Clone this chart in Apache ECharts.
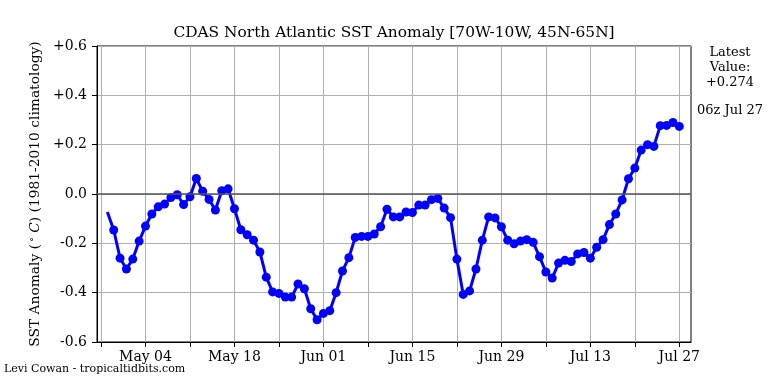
<!DOCTYPE html>
<html>
<head>
<meta charset="utf-8">
<script src="https://cdn.jsdelivr.net/npm/echarts@6/dist/echarts.min.js"></script>
<style>
html,body{margin:0;padding:0;background:#fff;}
#chart{width:768px;height:384px;}
</style>
</head>
<body>
<div id="chart"></div>
<script>
// x values are days since Apr 27; first observation is Apr 28 (day 1)
const firstDay = 1;
const anomaly = [
  -0.073, -0.146, -0.260, -0.304, -0.264, -0.191, -0.130, -0.081, -0.052, -0.041,
  -0.014, -0.003, -0.043, -0.011,  0.063,  0.011, -0.022, -0.065,  0.013,  0.021,
  -0.060, -0.145, -0.165, -0.187, -0.235, -0.337, -0.397, -0.403, -0.418, -0.418,
  -0.365, -0.384, -0.465, -0.510, -0.484, -0.473, -0.400, -0.312, -0.258, -0.176,
  -0.172, -0.172, -0.162, -0.133, -0.062, -0.093, -0.093, -0.073, -0.075, -0.045,
  -0.045, -0.023, -0.018, -0.057, -0.096, -0.264, -0.407, -0.393, -0.304, -0.187,
  -0.093, -0.097, -0.133, -0.187, -0.202, -0.191, -0.185, -0.196, -0.254, -0.316,
  -0.341, -0.280, -0.269, -0.274, -0.243, -0.237, -0.260, -0.216, -0.185, -0.124,
  -0.081, -0.024,  0.062,  0.105,  0.178,  0.200,  0.193,  0.277,  0.278,  0.290,
   0.274
];
const tickDays = [0, 7, 14, 21, 28, 35, 42, 49, 56, 63, 70, 77, 84, 91];
const labelDays = [7, 21, 35, 49, 63, 77, 91];
const tickLabels = ['May 04', 'May 18', 'Jun 01', 'Jun 15', 'Jun 29', 'Jul 13', 'Jul 27'];
const latestValue = '+0.274';
const latestTime = '06z Jul 27';
const titleText = 'CDAS North Atlantic SST Anomaly [70W-10W, 45N-65N]';
const creditText = 'Levi Cowan - tropicaltidbits.com';

const xMin = -0.63, xMax = 92.84;
const FONT = 'DejaVu Serif';

const seriesData = anomaly.map((v, i) => {
  const item = { value: [firstDay + i, v] };
  if (i === 0) item.symbol = 'none';
  return item;
});

function fmtY(v) {
  const r = Math.round(v * 10) / 10;
  if (Math.abs(r) < 1e-9) return '0.0';
  return (r > 0 ? '+' : '') + r.toFixed(1);
}

const chart = echarts.init(document.getElementById('chart'), null, { renderer: 'canvas' });
chart.setOption({
  animation: false,
  backgroundColor: '#ffffff',
  grid: {
    left: 97, right: 77, top: 46, bottom: 42,
    show: true, borderColor: '#000', borderWidth: 1, backgroundColor: 'transparent'
  },
  xAxis: {
    type: 'value', min: xMin, max: xMax,
    axisLine: { show: true, onZero: false, lineStyle: { color: '#000', width: 1 } },
    axisTick: { show: true, inside: false, length: 5, customValues: tickDays, lineStyle: { color: '#000', width: 1 } },
    axisLabel: {
      customValues: labelDays, margin: 8,
      fontFamily: FONT, fontSize: 14, color: '#000',
      formatter: v => { const k = labelDays.indexOf(Math.round(v)); return k >= 0 ? tickLabels[k] : ''; }
    },
    splitLine: { show: true, lineStyle: { color: '#b0b0b0', width: 1 } }
  },
  yAxis: {
    type: 'value', min: -0.6, max: 0.6, interval: 0.2,
    name: '{a|SST Anomaly (}{s|∘}{i| C}{a|) (1981-2010 climatology)}',
    nameLocation: 'middle', nameGap: 53,
    nameTextStyle: {
      fontFamily: FONT, fontSize: 14, color: '#000',
      rich: {
        a: { fontFamily: FONT, fontSize: 13.8, color: '#000' },
        s: { fontFamily: FONT, fontSize: 10, color: '#000', verticalAlign: 'top', padding: [0, 0, 6, 2] },
        i: { fontFamily: FONT, fontSize: 13.8, fontStyle: 'italic', color: '#000' }
      }
    },
    axisLine: { show: true, onZero: false, lineStyle: { color: '#000', width: 1 } },
    axisTick: { show: true, inside: false, length: 5, lineStyle: { color: '#000', width: 1 } },
    axisLabel: { margin: 10, fontFamily: FONT, fontSize: 14, color: '#000', formatter: fmtY },
    splitLine: { show: true, lineStyle: { color: '#b0b0b0', width: 1 } }
  },
  series: [
    {
      type: 'line', data: [], z: 1, silent: true,
      markLine: {
        silent: true, symbol: 'none', label: { show: false },
        lineStyle: { color: '#555555', width: 1.5, type: 'solid' },
        data: [{ yAxis: 0 }]
      }
    },
    {
      type: 'line', data: seriesData, z: 3,
      symbol: 'circle', symbolSize: 9, showSymbol: true,
      lineStyle: { color: '#0000ff', width: 3 },
      itemStyle: { color: '#0000ff' }
    }
  ],
  graphic: [
    { type: 'text', x: 394, y: 33, style: { text: titleText, font: '15.4px "DejaVu Serif"', fill: '#000', textAlign: 'center', textVerticalAlign: 'middle' } },
    { type: 'text', x: 730, y: 45, style: { text: 'Latest\nValue:\n' + latestValue, font: '13px "DejaVu Serif"', fill: '#000', textAlign: 'center', lineHeight: 15 } },
    { type: 'text', x: 730, y: 104, style: { text: latestTime, font: '13px "DejaVu Serif"', fill: '#000', textAlign: 'center' } },
    { type: 'text', x: 4, y: 364, style: { text: creditText, font: '11px "DejaVu Serif"', fill: '#000', textAlign: 'left' } }
  ]
});
</script>
</body>
</html>
